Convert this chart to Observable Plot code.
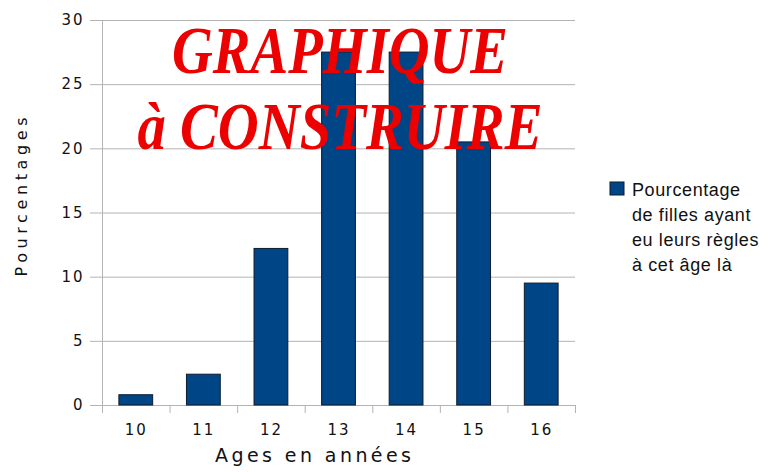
<!DOCTYPE html>
<html>
<head>
<meta charset="utf-8">
<script src="https://cdn.jsdelivr.net/npm/d3@7"></script>
<script src="https://cdn.jsdelivr.net/npm/@observablehq/plot@0.6"></script>
<style>
  html, body { margin: 0; padding: 0; background: #fff; }
</style>
</head>
<body>
<div id="chart"></div>
<script>
const ages = [10, 11, 12, 13, 14, 15, 16];
const pourcentages = [0.8, 2.4, 12.2, 27.5, 27.5, 20.5, 9.5];
const yTicks = [0, 5, 10, 15, 20, 25, 30];
const xBoundaries = [9.5, 10.5, 11.5, 12.5, 13.5, 14.5, 15.5, 16.5];
const xLabel = "Ages en années";
const yLabel = "Pourcentages";
const legendLines = ["Pourcentage", "de filles ayant", "eu leurs règles", "à cet âge là"];
const titleLines = ["GRAPHIQUE", "à CONSTRUIRE"];

const data = ages.map((age, i) => ({age, value: pourcentages[i]}));

const barColor = "#004586";
const gridColor = "#b3b3b3";

const chart = Plot.plot({
  width: 768,
  height: 472,
  marginLeft: 102,
  marginRight: 193,
  marginTop: 20,
  marginBottom: 67,
  x: {domain: [9.5, 16.5]},
  y: {domain: [0, 30]},
  style: {fontFamily: "DejaVu Sans", fontSize: "15px", color: "#111", background: "#fff", letterSpacing: "2px"},
  marks: [
    Plot.gridY(yTicks, {stroke: gridColor, strokeOpacity: 1}),
    Plot.ruleX([9.5], {stroke: gridColor}),
    Plot.axisY(yTicks, {tickSize: 12, tickPadding: 6, stroke: gridColor, label: null}),
    Plot.axisX(xBoundaries, {tickSize: 8, stroke: gridColor, tickFormat: () => "", label: null}),
    Plot.axisX(ages, {tickSize: 0, tickPadding: 19, label: null, tickFormat: d => String(d)}),
    Plot.rectY(data, {x1: d => d.age - 0.25, x2: d => d.age + 0.25, y: "value", fill: barColor, stroke: "#0d1b2e", strokeWidth: 1})
  ]
});

document.getElementById("chart").appendChild(chart);

const svg = d3.select(chart);
const ns = svg.append("g").attr("font-family", "DejaVu Sans").attr("fill", "#111").style("letter-spacing", "0px");

// axis labels
ns.append("text")
  .attr("x", 313).attr("y", 462)
  .attr("text-anchor", "middle")
  .attr("font-size", 19)
  .attr("textLength", 196)
  .text(xLabel);

ns.append("text")
  .attr("transform", "translate(27,197) rotate(-90)")
  .attr("text-anchor", "middle")
  .attr("font-size", 16)
  .attr("textLength", 159)
  .text(yLabel);

// legend
ns.append("rect")
  .attr("x", 610).attr("y", 182).attr("width", 14).attr("height", 13)
  .attr("fill", barColor).attr("stroke", "#0d1b2e");
legendLines.forEach((t, i) => {
  ns.append("text")
    .attr("x", 632).attr("y", 196 + i * 25)
    .attr("text-anchor", "start")
    .attr("font-family", "Liberation Sans")
    .attr("font-size", 18)
    .style("letter-spacing", "0.6px")
    .text(t);
});

// red overlay title
const tg = svg.append("g")
  .attr("font-family", "Liberation Serif")
  .attr("font-weight", "bold")
  .attr("font-style", "italic")
  .attr("font-size", 68)
  .attr("fill", "#ec0000")
  .attr("text-anchor", "middle")
  .style("letter-spacing", "0px");
tg.append("text").attr("x", 340).attr("y", 73)
  .attr("textLength", 336).attr("lengthAdjust", "spacingAndGlyphs").text(titleLines[0]);
tg.append("text").attr("x", 340).attr("y", 149)
  .attr("textLength", 405).attr("lengthAdjust", "spacingAndGlyphs").text(titleLines[1]);
</script>
</body>
</html>
